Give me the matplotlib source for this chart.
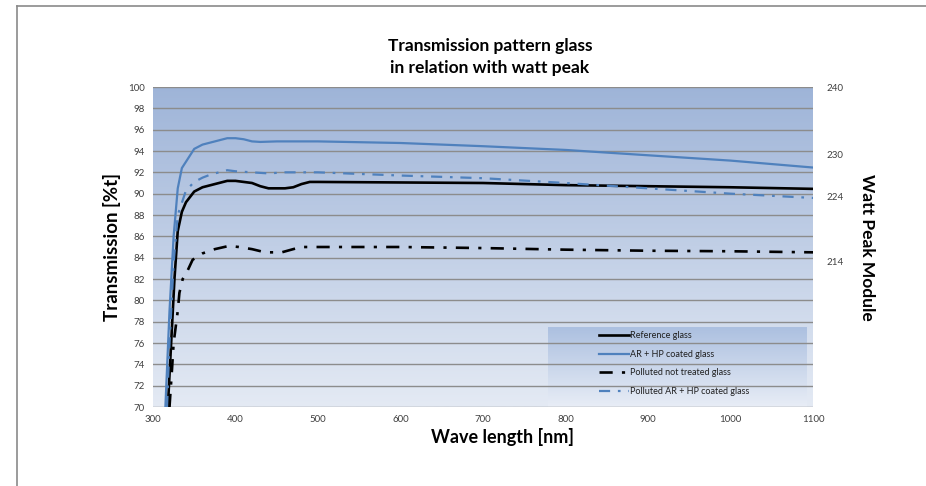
"""Transmission pattern glass vs wavelength, with watt peak scale on the right"""

import numpy as np
import matplotlib.pyplot as plt
from matplotlib.lines import Line2D

plt.rcParams['font.family'] = ['Lato', 'DejaVu Sans']

# Data (wavelength nm -> transmission %)
ref_wl = [318, 322, 326, 330, 335, 340, 350, 360, 370, 380, 390, 400, 410, 420, 430, 440, 450,
          460, 470, 480, 490, 500, 600, 700, 800, 900, 1000, 1100]
ref_tr = [70.0, 76.0, 82.0, 86.5, 88.3, 89.2, 90.2, 90.6, 90.8, 91.0, 91.2, 91.2, 91.1, 91.0,
          90.7, 90.5, 90.5, 90.5, 90.6, 90.9, 91.1, 91.1, 91.05, 91.0, 90.8, 90.7, 90.6, 90.45]

ar_wl = [315, 320, 325, 330, 335, 340, 350, 360, 370, 380, 390, 400, 410, 420, 430, 450, 500,
         600, 700, 800, 900, 1000, 1100]
ar_tr = [70.0, 79.0, 86.0, 90.5, 92.4, 93.0, 94.2, 94.6, 94.8, 95.0, 95.2, 95.2, 95.1, 94.9,
         94.85, 94.9, 94.9, 94.75, 94.45, 94.1, 93.6, 93.1, 92.45]

pol_wl = [320, 323, 325, 330, 332, 336, 342, 348, 360, 375, 392, 404, 420, 436, 456, 470, 480,
          500, 600, 700, 800, 900, 1000, 1100]
pol_tr = [70.0, 73.5, 76.0, 79.0, 80.7, 82.0, 82.8, 83.8, 84.4, 84.8, 85.1, 85.0, 84.8, 84.5,
          84.5, 84.8, 85.0, 85.0, 85.0, 84.9, 84.75, 84.65, 84.6, 84.5]

pol_ar_wl = [317, 320, 325, 330, 340, 350, 360, 370, 380, 390, 400, 420, 440, 460, 500, 600,
             700, 800, 900, 1000, 1100]
pol_ar_tr = [70.0, 76.0, 83.5, 88.0, 90.3, 91.1, 91.5, 91.8, 92.0, 92.2, 92.1, 92.0, 91.9, 92.0,
             92.0, 91.7, 91.45, 91.0, 90.5, 90.0, 89.6]

series_names = ['Reference glass', 'AR + HP coated glass',
                'Polluted not treated glass', 'Polluted AR + HP coated glass']

# right axis: watt peak labels and where they sit on the transmission scale
watt_labels = ['240', '230', '224', '214']
watt_pos = [100, 93.7, 89.7, 83.6]

BLUE = '#4f81bd'
TICK_COL = '#404040'

fig = plt.figure(figsize=(9.26, 4.86), dpi=100)

# outer frame (top and left edges visible in the screenshot)
fig.add_artist(Line2D([17 / 926, 17 / 926], [0, 1 - 6 / 486], color='#8a8a8a', lw=1.2))
fig.add_artist(Line2D([17 / 926, 1], [1 - 6 / 486, 1 - 6 / 486], color='#8a8a8a', lw=1.2))

ax = fig.add_axes([153 / 926, 1 - 407 / 486, 660 / 926, 320 / 486])

# gradient plot background
grad = np.linspace(0, 1, 256).reshape(-1, 1)
top = np.array([158, 180, 216]) / 255
bot = np.array([228, 234, 244]) / 255
img = top[None, None, :] + (bot - top)[None, None, :] * grad[:, :, None]
ax.imshow(img, extent=[0, 1, 0, 1], transform=ax.transAxes, aspect='auto', zorder=0)

ax.set_xlim(300, 1100)
ax.set_ylim(70, 100)
ax.set_xticks(np.arange(300, 1101, 100))
ax.set_yticks(np.arange(70, 101, 2))
ax.yaxis.grid(True, color='#8c8c8c', lw=1.0, zorder=1)
ax.set_axisbelow(False)
for s in ax.spines.values():
    s.set_visible(False)
ax.tick_params(length=0, labelsize=7, labelcolor=TICK_COL, pad=6)

# legend background box (gradient) in the lower right
lg_grad = np.linspace(0, 1, 128).reshape(-1, 1)
lg_top = np.array([172, 192, 224]) / 255
lg_bot = np.array([232, 237, 246]) / 255
lg_img = lg_top[None, None, :] + (lg_bot - lg_top)[None, None, :] * lg_grad[:, :, None]
ax.imshow(lg_img, extent=[0.598, 0.989, 0.0, 0.247], transform=ax.transAxes,
          aspect='auto', zorder=1.5)

ax.plot(ref_wl, ref_tr, color='black', lw=1.9, label=series_names[0], zorder=3)
ax.plot(ar_wl, ar_tr, color=BLUE, lw=1.6, label=series_names[1], zorder=3)
ax.plot(pol_wl, pol_tr, color='black', lw=1.9, dashes=(5, 3.5, 1.2, 3.5),
        label=series_names[2], zorder=3)
ax.plot(pol_ar_wl, pol_ar_tr, color=BLUE, lw=1.6, dashes=(5, 3.5, 1.2, 3.5),
        label=series_names[3], zorder=3)

leg = ax.legend(loc='center', bbox_to_anchor=(0.79, 0.136), frameon=False, fontsize=6.5,
                handlelength=3.3, handletextpad=0.15, labelspacing=1.05)
for t in leg.get_texts():
    t.set_color('#202020')

# right-hand watt peak scale
ax2 = ax.twinx()
ax2.set_ylim(70, 100)
ax2.set_yticks(watt_pos)
ax2.set_yticklabels(watt_labels)
for s in ax2.spines.values():
    s.set_visible(False)
ax2.tick_params(length=0, labelsize=7, labelcolor=TICK_COL, pad=10)

ax.set_xlabel('Wave length [nm]', fontsize=13, fontweight='bold')
ax.xaxis.set_label_coords(0.529, -0.066)
ax.set_ylabel('Transmission [%t]', fontsize=13.5, fontweight='bold', va='center')
ax.yaxis.set_label_coords(-0.062, 0.5)
ax2.set_ylabel('Watt Peak Module', fontsize=12.5, fontweight='bold', rotation=270, labelpad=22)

fig.text(490 / 926, 1 - 57 / 486, 'Transmission pattern glass\nin relation with watt peak',
         ha='center', va='center', fontsize=12.5, fontweight='bold', linespacing=1.4)

plt.savefig('out.png', dpi=100)
plt.close()
